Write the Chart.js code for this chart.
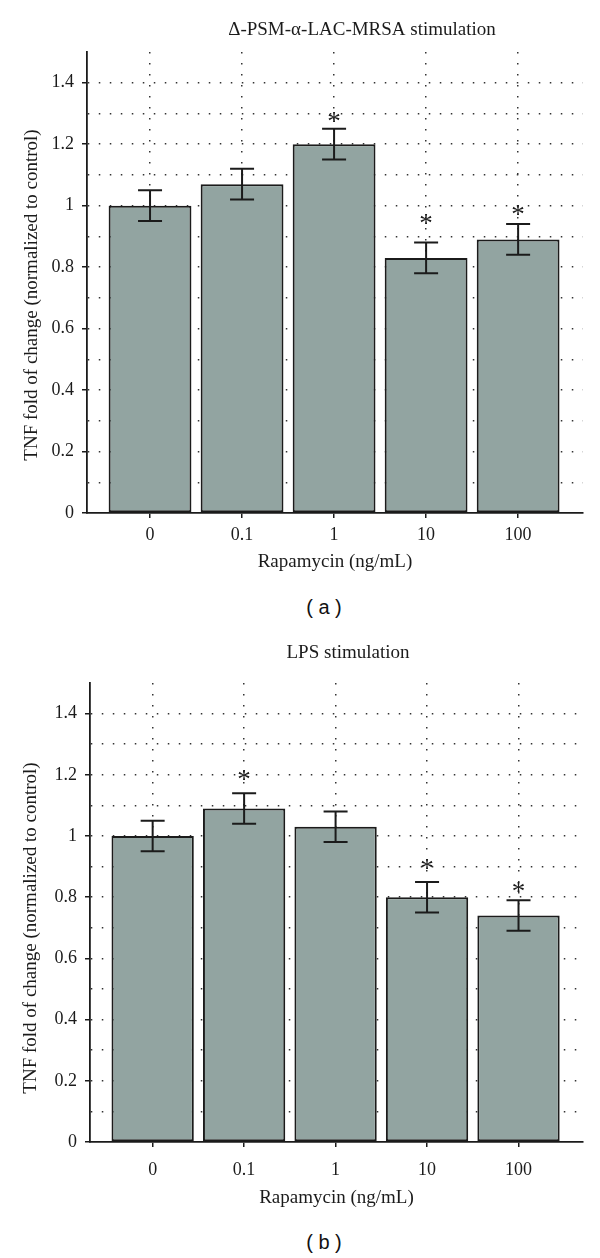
<!DOCTYPE html>
<html>
<head>
<meta charset="utf-8">
<script src="https://cdn.jsdelivr.net/npm/chart.js@4.4.1/dist/chart.umd.min.js"></script>
<style>
  body { margin: 0; background: #fff; width: 600px; height: 1258px; position: relative; overflow: hidden; }
  canvas { position: absolute; left: 0; }
  .cap { position: absolute; left: 274px; width: 100px; text-align: center; font-family: "Liberation Sans", "DejaVu Sans", sans-serif; font-size: 20px; line-height: 24px; color: #111; white-space: pre; }
</style>
</head>
<body>
<canvas id="chartA" width="600" height="580" style="top:0"></canvas>
<div class="cap" style="top:595px">( a )</div>
<canvas id="chartB" width="600" height="585" style="top:630px"></canvas>
<div class="cap" style="top:1230px">( b )</div>
<script>
// data
const doses = ["0", "0.1", "1", "10", "100"];
const psmMeans = [1.00, 1.07, 1.20, 0.83, 0.89];
const psmErrors = [0.05, 0.05, 0.05, 0.05, 0.05];
const psmStars = [null, null, 1.285, 0.953, 0.982];
const lpsMeans = [1.00, 1.09, 1.03, 0.80, 0.74];
const lpsErrors = [0.05, 0.05, 0.05, 0.05, 0.05];
const lpsStars = [null, 1.197, null, 0.906, 0.831];
const yMax = 1.5, yStep = 0.1;

const serif = '"Liberation Serif", "Times New Roman", serif';
const INK = "#1b1b1b";
const DOT = "#333";

const isMajor = v => Math.round(v * 10) % 2 === 0;

// error bars, asterisks, titles
const decor = {
  id: "decor",
  afterDatasetsDraw(chart, args, o) {
    const { ctx, scales: { x, y } } = chart;
    ctx.save();
    ctx.strokeStyle = INK;
    ctx.lineWidth = 2;
    o.means.forEach((m, i) => {
      const cx = x.getPixelForValue(i);
      const hi = y.getPixelForValue(m + o.errors[i]);
      const lo = y.getPixelForValue(m - o.errors[i]);
      ctx.beginPath();
      ctx.moveTo(cx, hi); ctx.lineTo(cx, lo);
      ctx.moveTo(cx - 12, hi); ctx.lineTo(cx + 12, hi);
      ctx.moveTo(cx - 12, lo); ctx.lineTo(cx + 12, lo);
      ctx.stroke();
    });
    ctx.fillStyle = INK;
    ctx.textAlign = "center";
    ctx.textBaseline = "middle";
    ctx.font = `27px ${serif}`;
    o.stars.forEach((s, i) => {
      if (s != null) ctx.fillText("*", x.getPixelForValue(i), y.getPixelForValue(s) + 5);
    });
    ctx.font = `19px ${serif}`;
    ctx.fillText(o.title, o.titleX, o.titleY);
    ctx.translate(o.yTitleX, o.yTitleY);
    ctx.rotate(-Math.PI / 2);
    ctx.fillText(o.yTitle, 0, 0);
    ctx.restore();
  }
};

function makeChart(id, p) {
  return new Chart(document.getElementById(id), {
    type: "bar",
    data: {
      datasets: [{
        data: p.means.map((v, i) => ({ x: i, y: v })),
        backgroundColor: "#92a4a1",
        borderColor: INK,
        borderWidth: 2,
        borderSkipped: false,
        barPercentage: 0.9,
        categoryPercentage: 1
      }]
    },
    options: {
      responsive: false,
      animation: false,
      layout: { padding: { top: p.top, right: 17, left: 0, bottom: 0 } },
      plugins: {
        legend: { display: false },
        tooltip: { enabled: false },
        decor: {
          means: p.means, errors: p.errors, stars: p.stars,
          title: p.title, titleX: p.titleX, titleY: p.titleY,
          yTitle: "TNF fold of change (normalized to control)", yTitleX: p.yTitleX, yTitleY: p.yTitleY
        }
      },
      scales: {
        x: {
          type: "linear",
          min: -0.685, max: 4.705,
          offset: false,
          afterBuildTicks: s => { s.ticks = doses.map((_, i) => ({ value: i })); },
          afterFit: s => { s.height = p.xHeight; },
          ticks: {
            callback: v => doses[v] ?? "",
            font: { size: 18, family: serif }, color: INK,
            padding: p.tickPad, maxRotation: 0, autoSkip: false
          },
          grid: { offset: false, color: DOT, lineWidth: 1.5, tickColor: INK, tickLength: 5, tickWidth: 1.5 },
          border: { color: INK, width: 1.8, dash: [1.5, 9.5] },
          title: {
            display: true, text: "Rapamycin (ng/mL)",
            font: { size: 19, family: serif }, color: INK,
            padding: { top: 0, bottom: p.xTitlePad }
          }
        },
        y: {
          min: 0, max: yMax,
          afterFit: s => { s.width = p.yWidth; },
          ticks: {
            stepSize: yStep,
            callback: v => isMajor(v) ? String(Number(v.toFixed(1))) : "",
            font: { size: 18, family: serif }, color: INK, padding: 8
          },
          grid: {
            color: c => (c.tick.value > 0.05 && c.tick.value < 1.45) ? DOT : "transparent",
            lineWidth: 1.5,
            tickColor: c => isMajor(c.tick.value) ? INK : "transparent",
            tickLength: 5, tickWidth: 1.5
          },
          border: { color: INK, width: 1.8, dash: [1.5, 9.5] }
        }
      }
    },
    plugins: [decor]
  });
}

makeChart("chartA", {
  means: psmMeans, errors: psmErrors, stars: psmStars,
  title: "Δ-PSM-α-LAC-MRSA stimulation", titleX: 362, titleY: 30,
  yTitleX: 32, yTitleY: 295,
  top: 52, xHeight: 67, tickPad: 6, xTitlePad: 6.6, yWidth: 87
});

makeChart("chartB", {
  means: lpsMeans, errors: lpsErrors, stars: lpsStars,
  title: "LPS stimulation", titleX: 348, titleY: 23,
  yTitleX: 31, yTitleY: 298,
  top: 53, xHeight: 73, tickPad: 12, xTitlePad: 5.6, yWidth: 90
});
</script>
</body>
</html>
